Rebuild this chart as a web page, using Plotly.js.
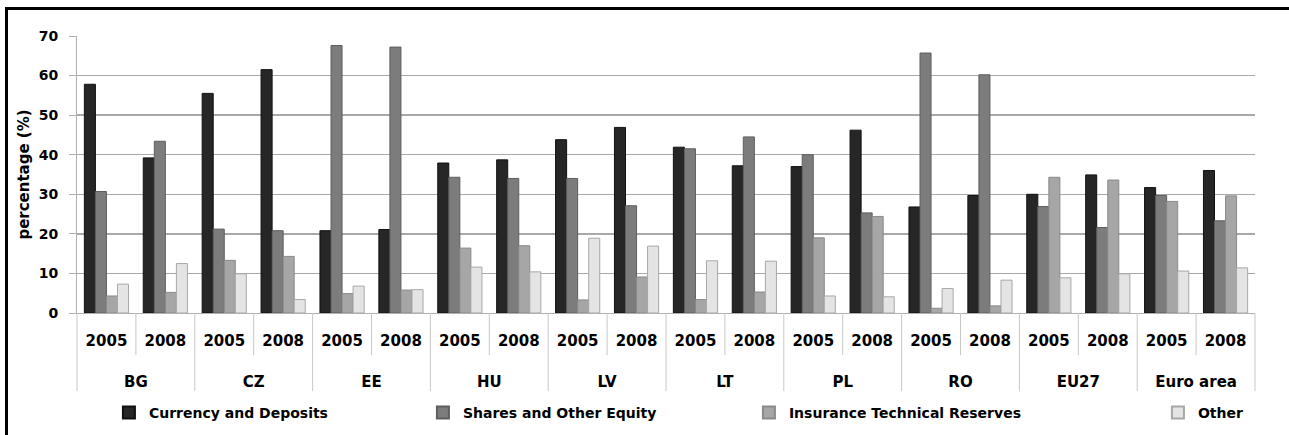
<!DOCTYPE html>
<html>
<head>
<meta charset="utf-8">
<script src="https://cdn.plot.ly/plotly-3.0.1.min.js"></script>
<style>
  html, body { margin: 0; padding: 0; background: #ffffff; }
  #wrap { position: relative; width: 1289px; height: 435px; }
  #chart { width: 1289px; height: 435px; }
  #frame { position: absolute; left: 5px; top: 7px; width: 1300px; height: 440px;
           border-top: 3px solid #000; border-left: 3px solid #000; pointer-events: none; }
</style>
</head>
<body>
<div id="wrap">
  <div id="chart"></div>
  <div id="frame"></div>
</div>
<script>
// ---- data ----
const countries = ["BG", "CZ", "EE", "HU", "LV", "LT", "PL", "RO", "EU27", "Euro area"];
const years = ["2005", "2008"];
const seriesNames = ["Currency and Deposits", "Shares and Other Equity", "Insurance Technical Reserves", "Other"];

// values per country/year in order: BG05, BG08, CZ05, CZ08, ...
const currencyDeposits = [57.8, 39.2, 55.5, 61.5, 20.8, 21.1, 37.9, 38.7, 43.8, 46.9, 41.9, 37.2, 37.0, 46.2, 26.8, 29.7, 30.0, 34.9, 31.7, 36.0];
const sharesEquity     = [30.7, 43.4, 21.2, 20.8, 67.6, 67.2, 34.3, 34.0, 34.0, 27.1, 41.5, 44.5, 40.0, 25.3, 65.7, 60.2, 26.9, 21.6, 29.7, 23.3];
const insuranceReserves= [4.3, 5.2, 13.3, 14.3, 4.9, 5.8, 16.4, 17.0, 3.3, 9.1, 3.4, 5.3, 19.0, 24.4, 1.2, 1.8, 34.3, 33.6, 28.2, 29.6];
const otherAssets      = [7.3, 12.5, 9.9, 3.4, 6.8, 5.9, 11.6, 10.4, 18.9, 16.9, 13.2, 13.1, 4.3, 4.1, 6.2, 8.3, 8.9, 9.9, 10.6, 11.4];

const yTicks = [0, 10, 20, 30, 40, 50, 60, 70];

// ---- build category keys (country + year) ----
const keys = [], yearText = [];
countries.forEach(c => years.forEach(y => { keys.push(c + " " + y); yearText.push(y); }));
const nSlots = keys.length;
const nY = years.length;
const groupCenters = countries.map((c, i) => i * nY + (nY - 1) / 2);

const fills = ["#262626", "#7c7c7c", "#a6a6a6", "#e4e4e4"];
const edges = ["#111111", "#5e5e5e", "#8a8a8a", "#a8a8a8"];
const valueSets = [currencyDeposits, sharesEquity, insuranceReserves, otherAssets];
const legendIds = ["legend", "legend2", "legend3", "legend4"];

const traces = valueSets.map((vals, i) => ({
  type: "bar",
  name: seriesNames[i],
  x: keys,
  y: vals,
  legend: legendIds[i],
  marker: { color: fills[i], line: { color: edges[i], width: 1 } },
  hoverinfo: "x+y+name"
}));
// empty helper trace so the country-label axis exists
traces.push({ type: "scatter", x: [], y: [], xaxis: "x2", showlegend: false, hoverinfo: "skip" });

// separators: short ones between years, long ones between countries
const shapes = [];
for (let k = 0; k <= nSlots; k++) {
  const isGroup = (k % nY === 0);
  shapes.push({
    type: "line", xref: "paper", yref: "paper",
    x0: k / nSlots, x1: k / nSlots, y0: 0, y1: isGroup ? -0.282 : -0.152,
    line: { color: "#c8c8c8", width: 1 }
  });
}

const font = "DejaVu Sans";
const legendX = [0.0845, 0.3281, 0.5810, 0.8983];
function legendCfg(x) {
  return {
    orientation: "h",
    xref: "container", yref: "container",
    x: x, xanchor: "left",
    y: 0.0506, yanchor: "middle",
    bgcolor: "rgba(0,0,0,0)",
    font: { family: font, size: 14, color: "#000", weight: "bold" },
    itemsizing: "constant"
  };
}

const layout = {
  width: 1289, height: 435,
  margin: { l: 77, r: 34, t: 36, b: 122, autoexpand: false },
  paper_bgcolor: "#ffffff",
  plot_bgcolor: "#ffffff",
  barmode: "group",
  bargap: 0.25,
  bargroupgap: 0,
  showlegend: true,
  legend: legendCfg(legendX[0]),
  legend2: legendCfg(legendX[1]),
  legend3: legendCfg(legendX[2]),
  legend4: legendCfg(legendX[3]),
  xaxis: {
    type: "category",
    range: [-0.5, nSlots - 0.5],
    automargin: false,
    tickmode: "array", tickvals: keys, ticktext: yearText,
    showgrid: false,
    showline: true, linecolor: "#b0b0b0", linewidth: 1,
    ticks: "outside", ticklen: 14, tickcolor: "rgba(0,0,0,0)",
    tickfont: { family: font, size: 15, color: "#000", weight: "bold" }
  },
  xaxis2: {
    type: "linear",
    overlaying: "x", anchor: "y", side: "bottom",
    range: [-0.5, nSlots - 0.5],
    automargin: false,
    tickmode: "array", tickvals: groupCenters, ticktext: countries,
    showgrid: false, zeroline: false, showline: false,
    ticks: "outside", ticklen: 55, tickcolor: "rgba(0,0,0,0)",
    tickfont: { family: font, size: 15, color: "#000", weight: "bold" }
  },
  yaxis: {
    range: [0, 70],
    automargin: false,
    tickvals: yTicks,
    ticktext: yTicks.map(String),
    showgrid: true, gridcolor: "#a9a9a9", gridwidth: 1.5,
    zeroline: false,
    showline: true, linecolor: "#b0b0b0", linewidth: 1,
    ticks: "outside", ticklen: 7, tickcolor: "#b0b0b0",
    ticklabelstandoff: 8,
    tickfont: { family: font, size: 14, color: "#000", weight: "bold" },
    title: { text: "percentage (%)", font: { family: font, size: 15, color: "#000", weight: "bold" }, standoff: 5 }
  },
  shapes: shapes,
  font: { family: font }
};

Plotly.newPlot("chart", traces, layout, { displayModeBar: false, staticPlot: true });
</script>
</body>
</html>
